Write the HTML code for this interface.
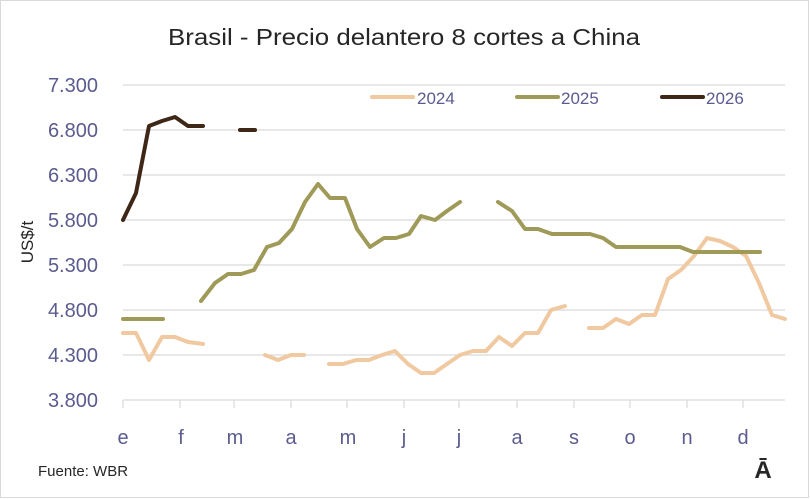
<!DOCTYPE html>
<html><head><meta charset="utf-8"><style>
body{margin:0;background:#fff}
svg{display:block}
text{font-family:"Liberation Sans","DejaVu Sans",sans-serif}
</style></head><body>
<svg width="811" height="499" viewBox="0 0 811 499">
<rect x="0.5" y="0.5" width="808" height="497" fill="#fff" stroke="#d9d9d9"/>
<text x="168" y="45" font-size="23" textLength="472" lengthAdjust="spacingAndGlyphs" fill="#262626">Brasil - Precio delantero 8 cortes a China</text>
<g stroke="#d9d9d9" stroke-width="1.2">
<line x1="123" x2="785" y1="85" y2="85"/><line x1="123" x2="785" y1="130" y2="130"/>
<line x1="123" x2="785" y1="175" y2="175"/><line x1="123" x2="785" y1="220" y2="220"/>
<line x1="123" x2="785" y1="265" y2="265"/><line x1="123" x2="785" y1="310" y2="310"/>
<line x1="123" x2="785" y1="355" y2="355"/><line x1="123" x2="785" y1="400" y2="400"/>
<line x1="123" x2="123" y1="400" y2="408"/><line x1="180" x2="180" y1="400" y2="408"/>
<line x1="234" x2="234" y1="400" y2="408"/><line x1="291" x2="291" y1="400" y2="408"/>
<line x1="347" x2="347" y1="400" y2="408"/><line x1="404" x2="404" y1="400" y2="408"/>
<line x1="459" x2="459" y1="400" y2="408"/><line x1="517" x2="517" y1="400" y2="408"/>
<line x1="574" x2="574" y1="400" y2="408"/><line x1="630" x2="630" y1="400" y2="408"/>
<line x1="687" x2="687" y1="400" y2="408"/><line x1="743" x2="743" y1="400" y2="408"/>
</g>
<g font-size="20" fill="#5b5b8f" text-anchor="end">
<text x="98" y="92">7.300</text><text x="98" y="137">6.800</text><text x="98" y="182">6.300</text>
<text x="98" y="227">5.800</text><text x="98" y="272">5.300</text><text x="98" y="317">4.800</text>
<text x="98" y="362">4.300</text><text x="98" y="407">3.800</text>
</g>
<g font-size="20" fill="#5b5b8f" text-anchor="middle">
<text x="123" y="444">e</text><text x="181" y="444">f</text><text x="235" y="444">m</text>
<text x="291" y="444">a</text><text x="348" y="444">m</text><text x="404" y="444">j</text>
<text x="459" y="444">j</text><text x="517" y="444">a</text><text x="574" y="444">s</text>
<text x="630" y="444">o</text><text x="687" y="444">n</text><text x="743" y="444">d</text>
</g>
<text transform="translate(33,242) rotate(-90)" font-size="17" fill="#262626" text-anchor="middle">US$/t</text>
<text x="38" y="476" font-size="15" fill="#262626">Fuente: WBR</text>
<text x="763" y="478" font-size="24" font-weight="bold" fill="#262626" text-anchor="middle">Ā</text>
<g fill="none" stroke-width="4" stroke-linejoin="round" stroke-linecap="round">
<g stroke="#f0c9a0">
<polyline points="123,333 136,333 149,360 162,337 175,337 188,342 203,344"/>
<polyline points="265,355 278,360 291,355 304,355"/>
<polyline points="329,364 343,364 356,360 369,360 382,355 395,351 408,364 421,373 434,373 447,364 460,355 473,351 486,351 499,337 512,346 525,333 538,333 551,310 565,306"/>
<polyline points="589,328 603,328 616,319 629,324 642,315 655,315 668,279 681,270 694,256 707,238 720,241 733,247 746,256 759,283 772,315 785,319"/>
<line x1="372" y1="97" x2="413" y2="97"/>
</g>
<g stroke="#a09a58">
<polyline points="123,319 163,319"/>
<polyline points="201,301 215,283 228,274 241,274 254,270 267,247 279,243 292,229 305,202 318,184 330,198 345,198 357,229 370,247 384,238 396,238 409,234 421,216 435,220 447,211 460,202"/>
<polyline points="498,202 512,211 525,229 538,229 552,234 565,234 578,234 590,234 603,238 616,247 630,247 680,247 693,252 760,252"/>
<line x1="517" y1="97" x2="558" y2="97"/>
</g>
<g stroke="#3e2716">
<polyline points="123,220 136,193 149,126 162,121 175,117 188,126 203,126"/>
<polyline points="240,130 255,130"/>
<line x1="662" y1="97" x2="703" y2="97"/>
</g>
</g>
<g font-size="17" fill="#5b5b8f">
<text x="417" y="104">2024</text><text x="561" y="104">2025</text><text x="706" y="104">2026</text>
</g>
</svg>
</body></html>
